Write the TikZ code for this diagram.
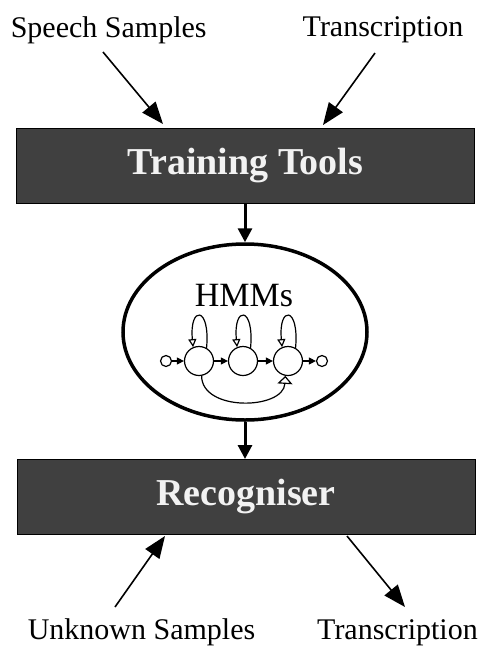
\documentclass[tikz,border=0pt]{standalone}
\usepackage{fontspec}
\setmainfont{Liberation Serif}
\usetikzlibrary{arrows.meta,shapes.geometric}
\definecolor{boxgray}{HTML}{404040}
\definecolor{boxtext}{HTML}{F2F2F2}
\begin{document}
\begin{tikzpicture}[x=1pt,y=-1pt,
  lbl/.style={anchor=base,inner sep=0pt,font=\fontsize{30}{30}\selectfont},
  toolbox/.style={draw=black,line width=1pt,fill=boxgray,text=boxtext,
    minimum width=458pt,minimum height=75pt,inner sep=0pt,
    font=\fontsize{38}{38}\selectfont\bfseries},
  bigarrow/.style={line width=1.6pt,-{Triangle[length=22pt,width=17pt]}},
  vertarrow/.style={line width=3pt,-{Triangle[length=14pt,width=14pt]}},
  state/.style={circle,draw,line width=1.2pt,minimum size=29pt,inner sep=0pt},
  endstate/.style={circle,draw,line width=1.2pt,minimum size=11pt,inner sep=0pt},
  harrow/.style={line width=1.2pt,-{Triangle[length=7pt,width=7pt]}},
  looparrow/.style={line width=1.2pt,-{Triangle[open,length=8pt,width=8pt,fill=white]}},
  skiparrow/.style={line width=1.2pt,-{Triangle[open,length=8pt,width=15pt,fill=white]}}
]
\useasboundingbox (0,0) rectangle (480,646);
% labels
\node[lbl] (speech) at (108.7,37) {Speech Samples};
\node[lbl] (transtop) at (383,36) {Transcription};
\node[lbl] (unknown) at (141.5,639) {Unknown Samples};
\node[lbl] (transbot) at (397.5,639) {Transcription};
% boxes
\node[toolbox] (train) at (245.5,165.5) {Training Tools};
\node[toolbox] (recog) at (246,497) {Recogniser};
% ellipse
\node[ellipse,draw,line width=3.5pt,minimum width=244pt,minimum height=176pt,inner sep=0pt] (hmm) at (245,332) {};
\node[anchor=base,inner sep=0pt,font=\fontsize{34}{34}\selectfont] (hmmtxt) at (244,306) {HMMs};
% diagonal arrow coordinates
\coordinate (ssA) at (103,52);
\coordinate (ssB) at (163,124);
\coordinate (ttA) at (375,53);
\coordinate (ttB) at (323,125);
\coordinate (usA) at (115,607);
\coordinate (usB) at (165,536);
\coordinate (tbA) at (347,536);
\coordinate (tbB) at (405,607);
\draw[bigarrow] (ssA) -- (ssB);
\draw[bigarrow] (ttA) -- (ttB);
\draw[bigarrow] (usA) -- (usB);
\draw[bigarrow] (tbA) -- (tbB);
% vertical arrows
\draw[vertarrow] (train.south -| hmm.north) -- (hmm.north);
\draw[vertarrow] (hmm.south) -- (recog.north -| hmm.south);
% HMM states
\node[endstate] (i) at (166,361) {};
\node[state] (s1) at (199,361) {};
\node[state] (s2) at (243,361) {};
\node[state] (s3) at (288,361) {};
\node[endstate] (o) at (322,361) {};
\draw[harrow] (i) -- (s1);
\draw[harrow] (s1) -- (s2);
\draw[harrow] (s2) -- (s3);
\draw[harrow] (s3) -- (o);
\foreach \s in {s1,s2,s3}{
  \draw[looparrow] (\s.60) .. controls +(4,-42) and +(-4,-42) .. (\s.113);
}
\draw[skiparrow] (s1.-80) .. controls +(0,36) and +(-2,34) .. (s3.-100);
\end{tikzpicture}
\end{document}
